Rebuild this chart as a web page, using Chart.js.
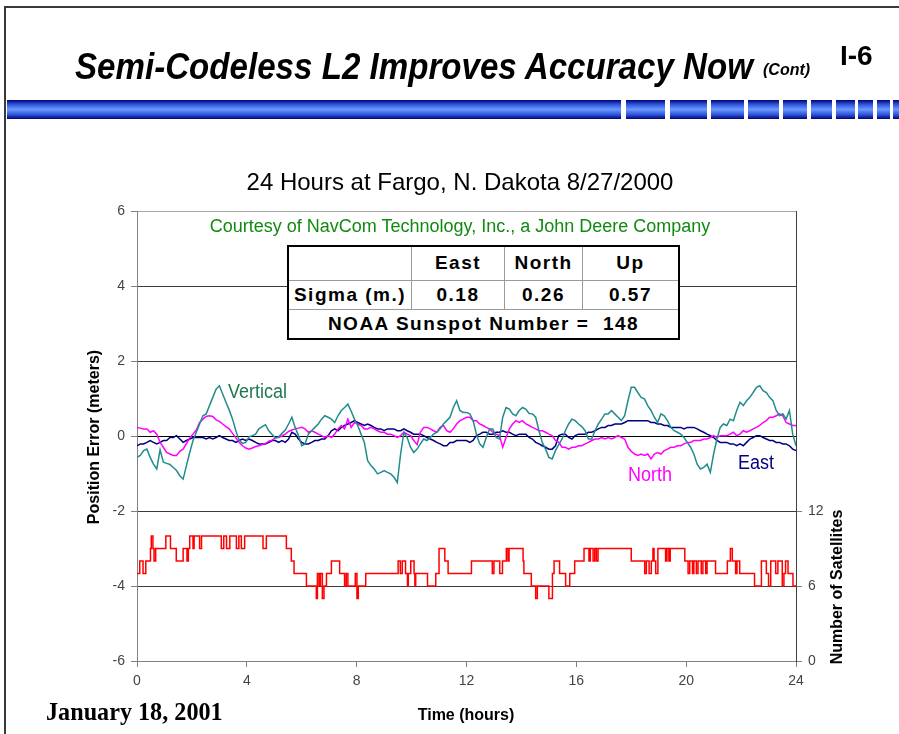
<!DOCTYPE html>
<html>
<head>
<meta charset="utf-8">
<script src="https://cdn.jsdelivr.net/npm/chart.js@4.4.0/dist/chart.umd.min.js"></script>
<style>
  html, body { margin: 0; padding: 0; background: #fff; }
  body { width: 899px; height: 734px; position: relative; overflow: hidden; font-family: "Liberation Sans", Arial, sans-serif; }
  #chart { position: absolute; left: 0; top: 0; }
  .frame { position: absolute; left: 4px; top: 6px; width: 900px; height: 740px; border-left: 2px solid #3a3a3a; border-top: 2px solid #3a3a3a; }
  .seg { position: absolute; top: 100px; height: 19px; background: linear-gradient(#00007a 0%, #2b52d6 22%, #6a98ff 50%, #2b52d6 78%, #00007a 100%); }
  .t { position: absolute; white-space: nowrap; line-height: normal; transform-origin: left top; }
  .ctr { transform: translateX(-50%); }
  .rot { transform: translate(-50%, -50%) rotate(-90deg); transform-origin: center; }
  #stats { position: absolute; left: 287px; top: 245px; width: 393px; height: 95px; background: #fff;
           border: 2px solid #000; box-sizing: border-box; border-collapse: collapse; }
  #stats td { border: 1px solid #9a9a9a; text-align: center; font-weight: bold; font-size: 19px; letter-spacing: 1.5px; padding: 0; color: #000; }
</style>
</head>
<body>
<canvas id="chart" width="899" height="734"></canvas>

<div class="frame"></div>
<div class="seg" style="left:7px; width:614px"></div>
<div class="seg" style="left:626px; width:39px"></div>
<div class="seg" style="left:670px; width:37px"></div>
<div class="seg" style="left:711px; width:33px"></div>
<div class="seg" style="left:748px; width:31px"></div>
<div class="seg" style="left:783px; width:24px"></div>
<div class="seg" style="left:811px; width:21px"></div>
<div class="seg" style="left:836px; width:19px"></div>
<div class="seg" style="left:858px; width:15px"></div>
<div class="seg" style="left:877px; width:13px"></div>
<div class="seg" style="left:893px; width:6px"></div>

<div class="t" style="left:75px; top:46px; font-size:36px; font-weight:bold; font-style:italic; transform:scaleX(0.92);">Semi-Codeless L2 Improves Accuracy Now</div>
<div class="t" style="left:763px; top:61px; font-size:16px; font-weight:bold; font-style:italic;">(Cont)</div>
<div class="t" style="left:840px; top:40px; font-size:28px; font-weight:bold;">I-6</div>

<div class="t ctr" style="left:460px; top:168px; font-size:24px;">24 Hours at Fargo, N. Dakota 8/27/2000</div>
<div class="t ctr" style="left:460px; top:216px; font-size:18px; color:#118a11;">Courtesy of NavCom Technology, Inc., a John Deere Company</div>

<table id="stats">
  <tr style="height:34px"><td style="width:122px"></td><td style="width:92px">East</td><td style="width:77px">North</td><td>Up</td></tr>
  <tr style="height:29px"><td>Sigma (m.)</td><td>0.18</td><td>0.26</td><td>0.57</td></tr>
  <tr><td colspan="4">NOAA Sunspot Number =&nbsp; 148</td></tr>
</table>

<div class="t" style="left:228px; top:380px; font-size:20px; color:#1f7a50; transform:scaleX(0.9);">Vertical</div>
<div class="t" style="left:628px; top:463px; font-size:20px; color:#ff00ff; transform:scaleX(0.9);">North</div>
<div class="t" style="left:738px; top:451px; font-size:20px; color:#000080; transform:scaleX(0.9);">East</div>

<div class="t rot" style="left:94px; top:437px; font-size:16px; font-weight:bold;">Position Error (meters)</div>
<div class="t rot" style="left:837px; top:587px; font-size:16px; font-weight:bold;">Number of Satellites</div>
<div class="t ctr" style="left:466px; top:706px; font-size:16px; font-weight:bold;">Time (hours)</div>
<div class="t" style="left:46px; top:697px; font-size:26px; font-weight:bold; font-family:'Liberation Serif', 'Times New Roman', serif; transform:scaleX(0.93);">January 18, 2001</div>

<script>
// position error samples, one every 0.12 h from 0 to 24 h (meters)
const sampleStep = 0.12;

const verticalErr = [
  -0.57,-0.52,-0.39,-0.35,-0.57,-0.75,-0.88,-0.37,-0.70,-0.73,
  -0.76,-0.84,-0.92,-1.06,-1.15,-0.79,-0.44,-0.12,0.10,0.32,
  0.54,0.59,0.81,1.03,1.25,1.34,1.12,0.90,0.69,0.45,
  0.14,-0.11,-0.20,-0.17,-0.02,0.01,0.05,0.19,0.25,0.30,
  0.14,0.04,-0.05,-0.02,0.07,0.16,0.32,0.50,0.23,0.01,
  -0.26,-0.21,0.05,0.14,0.23,0.32,0.45,0.54,0.50,0.45,
  0.36,0.54,0.68,0.76,0.85,0.66,0.45,0.28,0.05,-0.17,
  -0.66,-0.79,-0.88,-1.01,-0.97,-0.92,-0.97,-1.01,-1.10,-1.24,
  -0.48,0.10,-0.04,-0.30,-0.44,-0.35,-0.21,-0.08,-0.12,-0.04,
  0.05,0.10,0.19,0.32,0.41,0.50,0.76,0.94,0.68,0.63,
  0.63,0.59,0.41,0.05,-0.21,-0.30,-0.04,0.19,0.19,-0.04,
  -0.08,0.50,0.76,0.72,0.59,0.54,0.68,0.76,0.72,0.60,
  0.59,0.50,0.14,-0.17,-0.35,-0.57,-0.61,-0.39,-0.23,-0.08,
  0.14,0.32,0.45,0.41,0.32,0.25,0.14,-0.08,-0.08,0.14,
  0.32,0.45,0.59,0.59,0.68,0.59,0.50,0.41,0.54,0.94,
  1.30,1.30,1.16,1.03,0.99,0.81,0.68,0.50,0.36,0.59,
  0.54,0.41,0.23,0.14,0.10,0.05,-0.04,-0.17,-0.30,-0.48,
  -0.75,-0.88,-0.84,-0.75,-0.97,-0.48,-0.08,0.23,0.32,0.28,
  0.45,0.41,0.68,0.90,0.81,0.94,1.03,1.16,1.30,1.34,
  1.21,1.16,1.03,0.94,0.68,0.54,0.59,0.45,0.68,0.05,
  -0.26
];

const northErr = [
  0.23,0.21,0.19,0.19,0.10,0.14,0.05,-0.17,-0.30,-0.44,
  -0.48,-0.52,-0.52,-0.41,-0.35,-0.20,-0.05,0.05,0.16,0.36,
  0.45,0.52,0.54,0.52,0.43,0.39,0.32,0.25,0.19,0.07,
  -0.05,-0.17,-0.26,-0.32,-0.35,-0.32,-0.28,-0.26,-0.23,-0.20,
  -0.14,-0.11,-0.05,-0.04,0.00,0.05,0.12,0.16,0.19,0.21,
  0.23,0.19,0.10,0.14,0.10,0.05,0.01,-0.04,0.01,-0.04,
  0.05,0.19,0.28,0.19,0.45,0.23,0.36,0.32,0.28,0.19,
  0.19,0.23,0.19,0.14,0.10,0.10,0.05,0.05,0.01,-0.04,
  0.01,0.10,0.05,0.01,-0.12,-0.23,0.10,0.23,0.23,0.19,
  0.14,0.10,0.23,0.28,0.14,0.10,0.19,0.32,0.41,0.45,
  0.50,0.50,0.41,0.41,0.32,0.28,0.23,0.19,0.10,0.05,
  0.01,-0.30,-0.04,0.19,0.32,0.41,0.36,0.41,0.32,0.28,
  0.23,0.19,0.14,0.14,0.10,0.05,0.01,-0.12,-0.17,-0.30,
  -0.30,-0.35,-0.30,-0.30,-0.26,-0.26,-0.21,-0.17,-0.12,-0.08,
  -0.08,-0.04,-0.08,-0.04,-0.08,-0.04,0.01,-0.04,-0.08,-0.30,
  -0.41,-0.48,-0.52,-0.48,-0.52,-0.48,-0.61,-0.48,-0.44,-0.48,
  -0.39,-0.35,-0.30,-0.30,-0.26,-0.26,-0.21,-0.17,-0.17,-0.12,
  -0.12,-0.12,-0.08,-0.08,-0.04,0.01,-0.04,0.01,0.01,0.01,
  0.05,0.10,0.01,0.05,0.14,0.10,0.14,0.19,0.23,0.28,
  0.36,0.41,0.50,0.50,0.54,0.59,0.54,0.36,0.32,0.28,
  0.28
];

const eastErr = [
  -0.26,-0.21,-0.21,-0.17,-0.12,-0.17,-0.21,-0.17,-0.12,-0.12,
  -0.04,-0.04,0.01,-0.08,-0.17,-0.12,-0.08,-0.04,-0.04,-0.04,
  -0.04,-0.08,-0.04,-0.08,-0.04,0.01,-0.04,-0.08,-0.12,-0.12,
  -0.17,-0.12,-0.08,-0.12,-0.08,-0.12,-0.17,-0.21,-0.21,-0.21,
  -0.17,-0.12,-0.12,-0.17,-0.12,-0.17,-0.08,0.10,0.05,-0.08,
  -0.17,-0.21,-0.21,-0.17,-0.12,-0.12,-0.08,-0.08,0.01,0.14,
  0.19,0.14,0.23,0.28,0.32,0.36,0.41,0.36,0.32,0.28,
  0.32,0.28,0.23,0.19,0.19,0.14,0.19,0.19,0.19,0.14,
  0.14,0.19,0.14,0.10,0.05,0.05,0.05,0.01,-0.04,-0.08,
  -0.12,-0.17,-0.21,-0.26,-0.26,-0.17,-0.17,-0.12,-0.12,-0.12,
  -0.12,-0.17,-0.12,0.01,0.05,0.10,0.10,0.05,0.05,0.10,
  0.10,0.14,0.10,0.10,0.05,0.01,0.05,0.05,0.05,-0.04,
  -0.08,-0.17,-0.21,-0.26,-0.30,-0.35,-0.35,-0.26,0.01,0.05,
  0.05,-0.04,-0.08,0.01,0.05,0.05,0.05,0.10,0.10,0.14,
  0.19,0.23,0.23,0.28,0.28,0.32,0.32,0.32,0.36,0.41,
  0.41,0.41,0.41,0.41,0.41,0.41,0.36,0.36,0.32,0.32,
  0.28,0.28,0.23,0.23,0.23,0.23,0.19,0.23,0.23,0.23,
  0.19,0.14,0.10,0.05,0.01,-0.04,-0.12,-0.17,-0.17,-0.17,
  -0.21,-0.21,-0.26,-0.21,-0.26,-0.17,-0.08,-0.04,0.01,0.01,
  -0.04,-0.08,-0.12,-0.12,-0.17,-0.17,-0.21,-0.21,-0.26,-0.35,
  -0.39
];

// satellites in view: count changes at these times (hours)
const satHours = [
  0, 0.1, 0.22, 0.32, 0.49, 0.52, 0.58, 0.62, 0.68, 1.05,
  1.22, 1.43, 1.68, 1.82, 1.87, 1.92, 2.04, 2.08, 2.28, 2.35,
  3.07, 3.16, 3.26, 3.38, 3.62, 3.71, 3.8, 3.92, 4.59, 4.71,
  5.44, 5.62, 5.72, 6.17, 6.53, 6.57, 6.63, 6.68, 6.75, 6.81,
  6.9, 7.08, 7.38, 7.56, 7.62, 7.68, 7.95, 8.01, 8.06, 8.33,
  9.51, 9.59, 9.66, 9.78, 9.85, 9.88, 9.97, 10.09, 10.12, 10.15,
  10.58, 10.88, 11.0, 11.21, 11.33, 12.18, 12.94, 13.0, 13.21, 13.31,
  13.45, 13.51, 13.55, 14.06, 14.09, 14.36, 14.52, 14.58, 15.0, 15.13,
  15.19, 15.39, 15.61, 15.76, 15.94, 16.28, 16.46, 16.51, 16.61, 16.67,
  16.73, 16.79, 18.0, 18.49, 18.55, 18.65, 18.73, 18.79, 18.83, 18.89,
  18.97, 19.25, 19.3, 19.37, 19.42, 19.95, 20.07, 20.13, 20.23, 20.28,
  20.37, 20.43, 20.55, 20.61, 20.71, 20.76, 21.07, 21.5, 21.61, 21.68,
  21.8, 21.85, 21.95, 22.49, 22.74, 22.92, 23.0, 23.08, 23.26, 23.34,
  23.5, 23.56, 23.62, 23.71, 23.89, 24
];
const satCount = [
  7, 8, 7, 8, 9, 10, 9, 8, 9, 10,
  9, 8, 9, 8, 9, 10, 9, 10, 9, 10,
  9, 10, 9, 10, 9, 10, 9, 10, 9, 10,
  9, 8, 7, 6, 5, 7, 6, 7, 5, 6,
  7, 8, 7, 6, 7, 6, 7, 5, 6, 7,
  8, 7, 8, 7, 6, 7, 8, 7, 6, 7,
  6, 7, 9, 8, 7, 8, 7, 8, 7, 8,
  9, 8, 9, 8, 7, 6, 5, 6, 5, 7,
  8, 7, 6, 7, 8, 9, 8, 9, 8, 9,
  8, 9, 8, 7, 8, 7, 8, 9, 8, 7,
  9, 8, 9, 8, 9, 8, 7, 8, 7, 8,
  7, 8, 7, 8, 7, 8, 7, 8, 9, 8,
  7, 8, 7, 6, 8, 7, 6, 8, 7, 8,
  6, 7, 8, 7, 6, 6
];

const hourTicks = [0, 4, 8, 12, 16, 20, 24];
const errorTicks = [-6, -4, -2, 0, 2, 4, 6];
const satTicks = [0, 6, 12];

const hours = verticalErr.map((_, i) => +(i * sampleStep).toFixed(2));
const toPoints = (ys) => ys.map((y, i) => ({ x: hours[i], y: y }));

const tickFont = { family: '"Liberation Sans", Arial, sans-serif', size: 14 };

new Chart(document.getElementById('chart').getContext('2d'), {
  type: 'line',
  data: {
    datasets: [
      { label: 'Vertical', data: toPoints(verticalErr), borderColor: '#208c8c', borderWidth: 1.5, pointRadius: 0, tension: 0, yAxisID: 'y' },
      { label: 'North', data: toPoints(northErr), borderColor: '#ff00ff', borderWidth: 1.5, pointRadius: 0, tension: 0, yAxisID: 'y' },
      { label: 'East', data: toPoints(eastErr), borderColor: '#000080', borderWidth: 1.5, pointRadius: 0, tension: 0, yAxisID: 'y' },
      { label: 'Satellites', data: satHours.map((h, i) => ({ x: h, y: satCount[i] })), borderColor: '#ff0000', borderWidth: 1.5,
        pointRadius: 0, stepped: true, yAxisID: 'y1' }
    ]
  },
  options: {
    responsive: false,
    animation: false,
    devicePixelRatio: 1,
    layout: { padding: { top: 211, left: 0, right: 0, bottom: 0 } },
    plugins: { legend: { display: false }, tooltip: { enabled: false } },
    scales: {
      x: {
        type: 'linear', min: 0, max: 24,
        afterBuildTicks: s => { s.ticks = hourTicks.map(v => ({ value: v })); },
        afterFit: s => { s.height = 73; },
        ticks: { font: tickFont, color: '#444', padding: 6, maxRotation: 0 },
        grid: { drawOnChartArea: false, tickLength: 6, color: '#808080' },
        border: { color: '#808080' }
      },
      y: {
        position: 'left', min: -6, max: 6,
        afterBuildTicks: s => { s.ticks = errorTicks.map(v => ({ value: v })); },
        afterFit: s => { s.width = 137; },
        ticks: { font: tickFont, color: '#444', padding: 6 },
        grid: {
          tickLength: 6, tickColor: '#808080',
          color: c => c.tick.value === 0 ? '#000' : (c.tick.value === 6 ? '#a8a8a8' : (c.tick.value === -6 ? '#808080' : '#3c3c3c'))
        },
        border: { color: '#808080' }
      },
      y1: {
        position: 'right', min: 0, max: 36,
        afterBuildTicks: s => { s.ticks = satTicks.map(v => ({ value: v })); },
        afterFit: s => { s.width = 103; },
        ticks: { font: tickFont, color: '#444', padding: 6 },
        grid: { drawOnChartArea: false, tickLength: 6, color: '#808080' },
        border: { color: '#404040' }
      }
    }
  }
});
</script>
</body>
</html>
